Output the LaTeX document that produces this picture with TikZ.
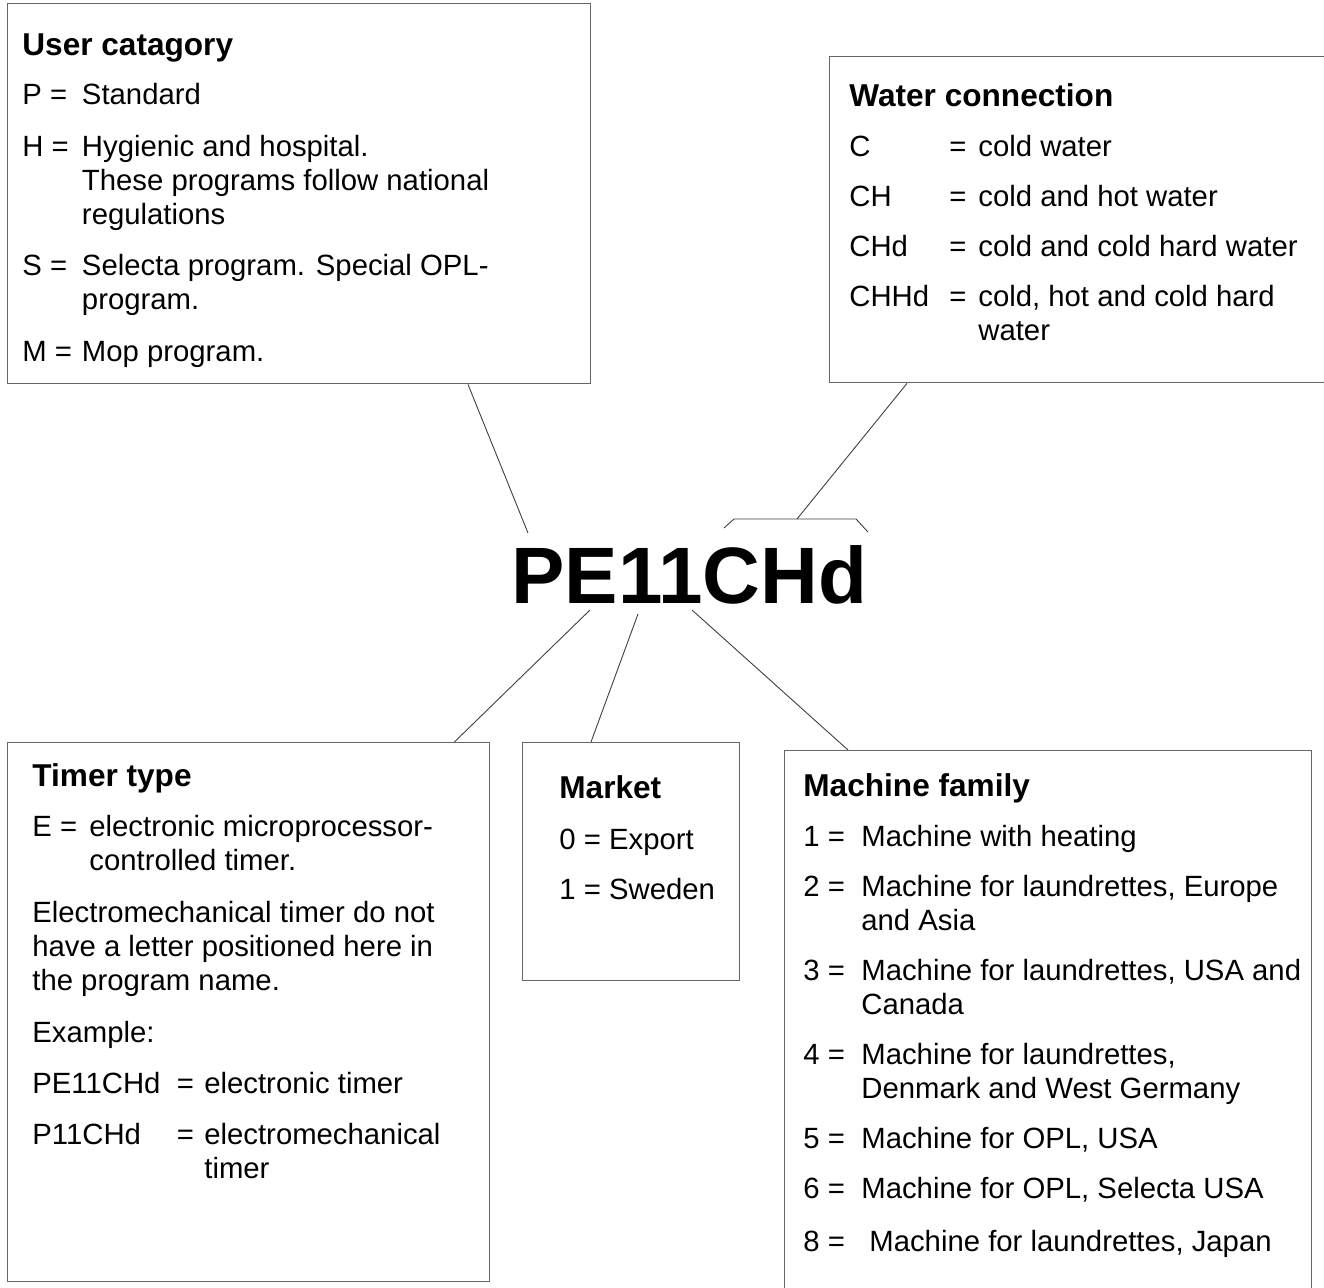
\documentclass[tikz,border=0pt]{standalone}
\usepackage{fontspec}
\setmainfont{Liberation Sans}

\tikzset{
  infobox/.style={draw=black!60, line width=0.7pt, inner sep=0pt, anchor=north west},
  infotext/.style={anchor=north west, inner sep=0pt, align=left, font=\fontsize{14.65}{17}\selectfont},
  link/.style={draw=black!75, line width=0.45pt},
}
\newcommand{\boxhead}[1]{{\fontsize{15.8}{17}\selectfont\bfseries #1}}
\newcommand{\itemlab}[2]{\makebox[#1][l]{#2}}

\begin{document}
\begin{tikzpicture}[x=0.5pt, y=-0.5pt]
        \useasboundingbox (0,0) rectangle (1324,1288);

        % the program name
        \node[anchor=base west, inner sep=0pt, font=\fontsize{40}{42}\selectfont\bfseries] (code) at (511.2,604) {PE11CHd};

        % boxes
        \node[infobox, minimum width=291.5pt, minimum height=190pt] (ucbox) at (7,3) {};
        \node[infobox, minimum width=255pt, minimum height=163pt] (wcbox) at (829,56) {};
        \node[infobox, minimum width=241pt, minimum height=269.5pt] (ttbox) at (7,742) {};
        \node[infobox, minimum width=108.5pt, minimum height=119pt] (mkbox) at (522,742) {};
        \node[infobox, minimum width=263.5pt, minimum height=280pt] (mfbox) at (784,750) {};

        \node[infotext] (uctext) at (22,33.5) {\boxhead{User catagory}\\[7.5pt]
          \itemlab{29.8pt}{P =}Standard\\[8.75pt]
          \itemlab{29.8pt}{H =}Hygienic and hospital.\\
          \hspace*{29.8pt}These programs follow national\\
          \hspace*{29.8pt}regulations\\[8.75pt]
          \itemlab{29.8pt}{S =}Selecta program. Special OPL-\\
          \hspace*{29.8pt}program.\\[8.75pt]
          \itemlab{29.8pt}{M =}Mop program.};

        \node[infotext] (wctext) at (849,83.4) {\boxhead{Water connection}\\[8pt]
          \itemlab{50pt}{C}\itemlab{14.5pt}{=}cold water\\[8pt]
          \itemlab{50pt}{CH}\itemlab{14.5pt}{=}cold and hot water\\[8pt]
          \itemlab{50pt}{CHd}\itemlab{14.5pt}{=}cold and cold hard water\\[8pt]
          \itemlab{50pt}{CHHd}\itemlab{14.5pt}{=}cold, hot and cold hard\\
          \hspace*{64.5pt}water};

        \node[infotext] (tttext) at (32,763.4) {\boxhead{Timer type}\\[8pt]
          \itemlab{28.5pt}{E =}electronic microprocessor-\\
          \hspace*{28.5pt}controlled timer.\\[9pt]
          Electromechanical timer do not\\
          have a letter positioned here in\\
          the program name.\\[9pt]
          Example:\\[8.5pt]
          \itemlab{72.3pt}{PE11CHd}\itemlab{13.7pt}{=}electronic timer\\[8.5pt]
          \itemlab{72.3pt}{P11CHd}\itemlab{13.7pt}{=}electromechanical\\
          \hspace*{86pt}timer};

        \node[infotext] (mktext) at (559,775.4) {\boxhead{Market}\\[8.5pt]
          0 = Export\\[8pt]
          1 = Sweden};

        \node[infotext] (mftext) at (803,773) {\boxhead{Machine family}\\[8pt]
          \itemlab{29pt}{1 =}Machine with heating\\[8pt]
          \itemlab{29pt}{2 =}Machine for laundrettes, Europe\\
          \hspace*{29pt}and Asia\\[8pt]
          \itemlab{29pt}{3 =}Machine for laundrettes, USA and\\
          \hspace*{29pt}Canada\\[8pt]
          \itemlab{29pt}{4 =}Machine for laundrettes,\\
          \hspace*{29pt}Denmark and West Germany\\[8pt]
          \itemlab{29pt}{5 =}Machine for OPL, USA\\[8pt]
          \itemlab{29pt}{6 =}Machine for OPL, Selecta USA\\[9.5pt]
          \itemlab{33pt}{8 =}Machine for laundrettes, Japan};

        % ends of the connectors
        \path (ucbox.south west) ++(461,0) coordinate (ucfoot);
        \path (wcbox.south west) ++(78,0) coordinate (wcfoot);
        \path (ttbox.north east) ++(-36,0) coordinate (tthead);
        \path (mkbox.north west) ++(69,0) coordinate (mkhead);
        \path (mfbox.north west) ++(64,0) coordinate (mfhead);
        \coordinate (atP) at (528,533);
        \coordinate (atE) at (590,610);
        \coordinate (atone) at (638,614);
        \coordinate (attwo) at (692,610);
        \coordinate (atCHd) at (797,519);

        % bracket over CHd
        \draw[link] (724,528) -- (734,519) -- (856,519) -- (868,532);

        \draw[link] (ucfoot) -- (atP);
        \draw[link] (wcfoot) -- (atCHd);
        \draw[link] (atE) -- (tthead);
        \draw[link] (atone) -- (mkhead);
        \draw[link] (attwo) -- (mfhead);
\end{tikzpicture}
\end{document}
